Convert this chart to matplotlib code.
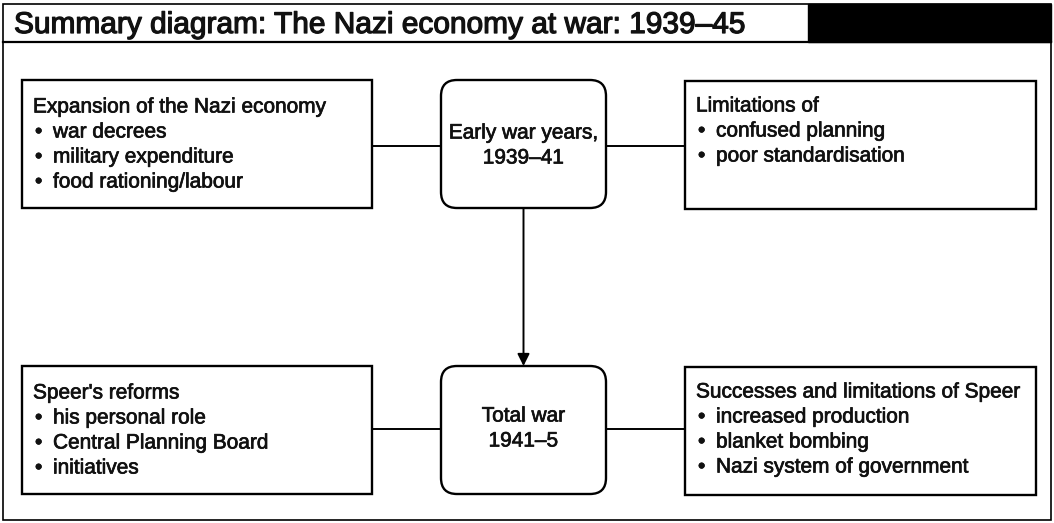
import matplotlib
matplotlib.use('Agg')
import matplotlib.pyplot as plt
import matplotlib.patheffects as pe
from matplotlib.patches import Rectangle, FancyBboxPatch

title = 'Summary diagram: The Nazi economy at war: 1939\u201345'

centre_labels = [['Early war years,', '1939\u201341'], ['Total war', '1941\u20135']]

left_heads = ['Expansion of the Nazi economy', "Speer's reforms"]
left_items = [['war decrees', 'military expenditure', 'food rationing/labour'],
              ['his personal role', 'Central Planning Board', 'initiatives']]

right_heads = ['Limitations of', 'Successes and limitations of Speer']
right_items = [['confused planning', 'poor standardisation'],
               ['increased production', 'blanket bombing', 'Nazi system of government']]

# layout in pixels (y down)
W, H = 1054, 523
rows_y = [(80, 208), (366, 494)]
conn_y = [146, 429]
left_x = (22, 372)
mid_x = (441, 606)
right_x = (685, 1036)
line_gap = 25

fig = plt.figure(figsize=(W / 100, H / 100), dpi=100)
ax = fig.add_axes([0, 0, 1, 1])
ax.set_xlim(0, W)
ax.set_ylim(H, 0)
ax.axis('off')

thick = [pe.withStroke(linewidth=0.5, foreground='#111111')]
body = dict(family=['Liberation Sans', 'DejaVu Sans'], fontsize=15, color='#111111',
            path_effects=thick)
lw = 1.7

# outer frame and title bar
ax.add_patch(Rectangle((3, 4), W - 6, H - 7, fill=False, lw=1.2, ec='black'))
ax.add_patch(Rectangle((808, 4), W - 3 - 808, 38, fc='black', ec='black', lw=1))
ax.plot([3, W - 3], [42, 42], color='black', lw=1.6)
ax.text(14, 25, title, family=['Liberation Sans', 'DejaVu Sans'],
        fontsize=21.5, va='center', ha='left', color='#111111',
        path_effects=[pe.withStroke(linewidth=0.9, foreground='#111111')])

for i in range(2):
    y0, y1 = rows_y[i]
    # left box
    ax.add_patch(Rectangle((left_x[0], y0), left_x[1] - left_x[0], y1 - y0,
                           fill=False, lw=lw, ec='black'))
    ty = y0 + 27
    ax.text(left_x[0] + 11, ty, left_heads[i], va='center', ha='left', **body)
    for k, item in enumerate(left_items[i]):
        yy = ty + line_gap * (k + 1)
        ax.text(left_x[0] + 13, yy, '\u2022', va='center', ha='left', **body)
        ax.text(left_x[0] + 31, yy, item, va='center', ha='left', **body)

    # right box
    ax.add_patch(Rectangle((right_x[0], y0 + 1), right_x[1] - right_x[0], y1 - y0,
                           fill=False, lw=lw, ec='black'))
    ty = y0 + 26
    ax.text(right_x[0] + 11, ty, right_heads[i], va='center', ha='left', **body)
    for k, item in enumerate(right_items[i]):
        yy = ty + line_gap * (k + 1)
        ax.text(right_x[0] + 13, yy, '\u2022', va='center', ha='left', **body)
        ax.text(right_x[0] + 31, yy, item, va='center', ha='left', **body)

    # centre rounded box
    ax.add_patch(FancyBboxPatch((mid_x[0], y0), mid_x[1] - mid_x[0], y1 - y0,
                                boxstyle='round,pad=0,rounding_size=16',
                                fill=False, lw=lw, ec='black'))
    cx = (mid_x[0] + mid_x[1]) / 2
    cy = conn_y[i]
    ax.text(cx, cy - 13, centre_labels[i][0], va='center', ha='center', **body)
    ax.text(cx, cy + 12, centre_labels[i][1], va='center', ha='center', **body)

    # connectors
    ax.plot([left_x[1], mid_x[0]], [cy, cy], color='black', lw=1.4)
    ax.plot([mid_x[1], right_x[0]], [cy, cy], color='black', lw=1.4)

# arrow between centre boxes
cx = (mid_x[0] + mid_x[1]) / 2
ax.annotate('', xy=(cx, rows_y[1][0]), xytext=(cx, rows_y[0][1]),
            arrowprops=dict(arrowstyle='-|>', color='black', lw=1.4,
                            mutation_scale=18, shrinkA=0, shrinkB=0))

fig.savefig('out.png', dpi=100)
